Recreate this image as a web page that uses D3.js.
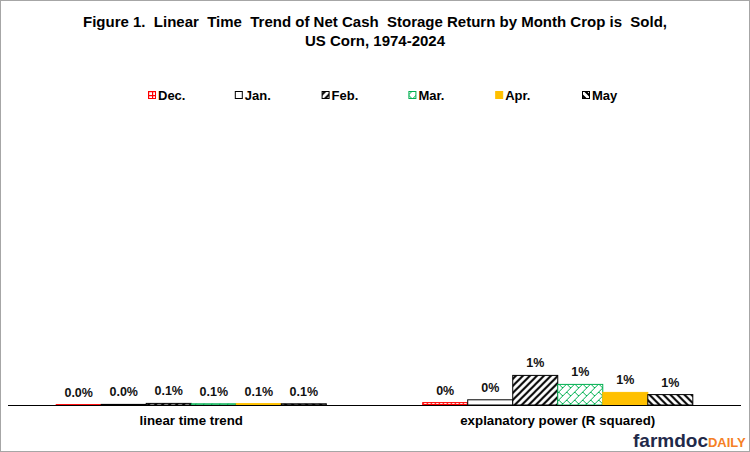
<!DOCTYPE html>
<html>
<head>
<meta charset="utf-8">
<script src="https://cdn.jsdelivr.net/npm/d3@7"></script>
<style>
  body { margin: 0; background: #fff; }
  svg text { font-family: "Liberation Sans", Arial, sans-serif; font-weight: bold; }
</style>
</head>
<body>
<div id="chart"></div>
<script>
// Data for the chart
const groups = ['linear time trend', 'explanatory power (R squared)'];
const months = ['Dec.', 'Jan.', 'Feb.', 'Mar.', 'Apr.', 'May'];
// values in percent
const trendValues = [0.02, 0.03, 0.08, 0.06, 0.07, 0.06];
const rsqValues = [0.12, 0.26, 1.48, 1.03, 0.63, 0.52];
const labelDecimals = [1, 0];
const titleLines = [
    'Figure 1.  Linear  Time  Trend of Net Cash  Storage Return by Month Crop is  Sold,',
    'US Corn, 1974-2024'
];

const width = 750;
const height = 452;

const svg = d3.select("#chart")
    .append("svg")
    .attr("width", width)
    .attr("height", height);

// patterns
const defs = svg.append("defs");

function pattern(id, size, bg, draw) {
    const p = defs.append("pattern")
        .attr("id", id)
        .attr("patternUnits", "userSpaceOnUse")
        .attr("width", size)
        .attr("height", size);
    p.append("rect").attr("width", size).attr("height", size).attr("fill", bg);
    draw(p);
}

pattern("p-dec", 4, "#fff", p => p.append("path")
    .attr("d", "M0,0.5h4M0.5,0v4")
    .attr("stroke", "#ff0000").attr("stroke-width", 1.4));
pattern("p-feb", 7, "#fff", p => p.append("path")
    .attr("d", "M-1,1l2,-2M0,7l7,-7M6,8l2,-2")
    .attr("stroke", "#000").attr("stroke-width", 2));
pattern("p-mar", 8, "#fff", p => p.append("path")
    .attr("d", "M0,8L8,0M0,0L4,4M-1,1l2,-2M7,9l2,-2")
    .attr("stroke", "#00b050").attr("stroke-width", 1));
pattern("p-may", 7, "#fff", p => p.append("path")
    .attr("d", "M-1,6l2,2M0,0l7,7M6,-1l2,2")
    .attr("stroke", "#000").attr("stroke-width", 2));

const fills = ['url(#p-dec)', '#fff', 'url(#p-feb)', 'url(#p-mar)', '#ffc000', 'url(#p-may)'];
const strokes = ['#ff0000', '#000', '#000', '#00b050', '#ffc000', '#000'];

// frame
svg.append("rect")
    .attr("x", 0.5).attr("y", 0.5)
    .attr("width", width - 1).attr("height", height - 1)
    .attr("fill", "#fff")
    .attr("stroke", "#a6a6a6");

// title
svg.append("g").selectAll("text")
    .data(titleLines)
    .enter().append("text")
    .attr("x", 375)
    .attr("y", (d, i) => 27 + i * 19)
    .attr("text-anchor", "middle")
    .attr("font-size", 15)
    .style("white-space", "pre")
    .attr("fill", "#000")
    .text(d => d);

// legend
const lx = d3.scalePoint().domain(months).range([148, 582]);
const legend = svg.append("g").selectAll("g")
    .data(months)
    .enter().append("g")
    .attr("transform", d => `translate(${lx(d)},95)`);

legend.append("rect")
    .attr("x", 0.5).attr("y", -3.5)
    .attr("width", 7).attr("height", 7)
    .attr("fill", (d, i) => fills[i])
    .attr("stroke", (d, i) => strokes[i]);

legend.append("text")
    .attr("x", 10)
    .attr("y", 5)
    .attr("font-size", 13)
    .text(d => d);

// scales
const baseY = 405;
const x0 = d3.scaleBand()
    .domain(groups)
    .range([8, 741])
    .paddingInner(0.263)
    .paddingOuter(0.1315);

const x1 = d3.scaleBand()
    .domain(months)
    .range([0, x0.bandwidth()]);

const y = d3.scaleLinear()
    .domain([0, 15])
    .range([baseY, 105]);

const seriesData = [trendValues, rsqValues];

const groupG = svg.append("g").selectAll("g")
    .data(groups)
    .enter().append("g")
    .attr("transform", d => `translate(${x0(d)},0)`);

groupG.selectAll("rect")
    .data((g, gi) => months.map((m, i) => ({ m, i, gi, v: seriesData[gi][i] })))
    .enter().append("rect")
    .attr("x", d => x1(d.m))
    .attr("y", d => y(d.v))
    .attr("width", x1.bandwidth())
    .attr("height", d => y(0) - y(d.v))
    .attr("fill", d => fills[d.i])
    .attr("stroke", d => strokes[d.i])
    .attr("stroke-width", 1);

groupG.selectAll("text")
    .data((g, gi) => months.map((m, i) => ({ m, i, gi, v: seriesData[gi][i] })))
    .enter().append("text")
    .attr("x", d => x1(d.m) + x1.bandwidth() / 2)
    .attr("y", d => y(d.v) - 8)
    .attr("text-anchor", "middle")
    .attr("font-size", 12.5)
    .attr("fill", "#111")
    .text(d => d3.format(`.${labelDecimals[d.gi]}f`)(d.v) + '%');

// category axis
const xAxis = svg.append("g")
    .attr("transform", `translate(0,${baseY})`)
    .call(d3.axisBottom(x0).tickSize(0).tickPadding(11));
xAxis.select(".domain").remove();
xAxis.selectAll("text")
    .attr("font-size", 13.3)
    .attr("font-family", "Liberation Sans, Arial, sans-serif")
    .attr("font-weight", "bold")
    .attr("fill", "#000");

svg.append("line")
    .attr("x1", 8).attr("x2", 741)
    .attr("y1", baseY + 0.5).attr("y2", baseY + 0.5)
    .attr("stroke", "#000");

// logo
const logo = svg.append("text")
    .attr("x", 633)
    .attr("y", 447);
logo.append("tspan")
    .attr("font-size", 19)
    .attr("fill", "#1f2a4a")
    .text("farmdoc");
logo.append("tspan")
    .attr("font-size", 13)
    .attr("fill", "#f58025")
    .text("DAILY");
</script>
</body>
</html>
